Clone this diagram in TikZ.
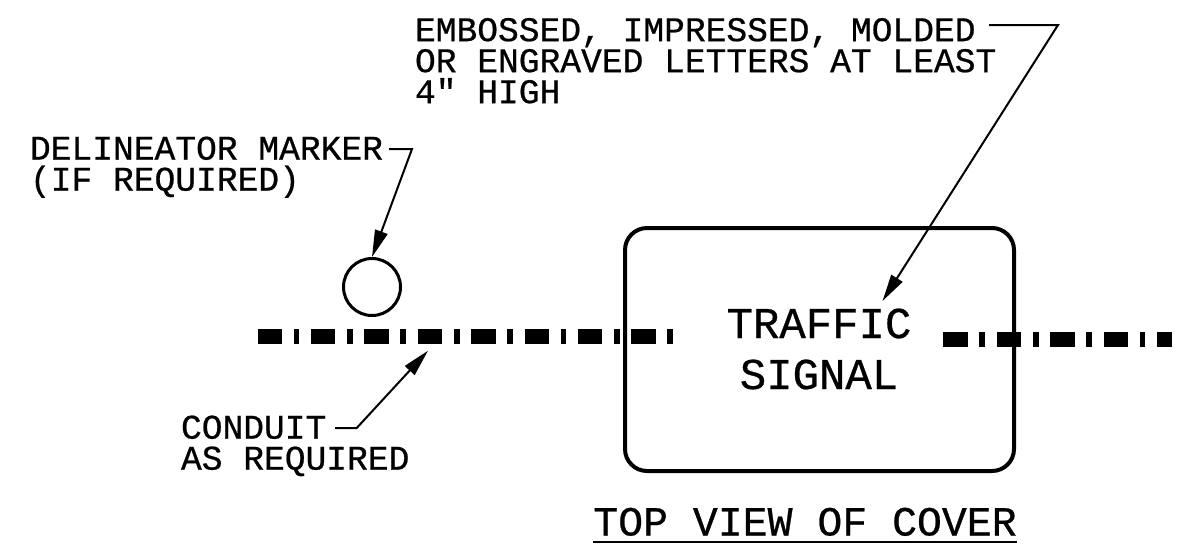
\documentclass[tikz,border=0pt]{standalone}
\usepackage{fontspec}
\setmainfont{Liberation Mono}[RawFeature={embolden=0.6}]
\usetikzlibrary{arrows.meta}
\tikzset{
  x=1pt,y=-1pt,
  leader/.style={draw=black,line width=2pt,-{Triangle[length=27pt,width=13pt]}},
  conduit/.style={draw=black,line width=15pt,dash pattern=on 24.5pt off 11.6pt on 5.7pt off 11.6pt},
  label/.style={inner sep=0pt,outer sep=0pt,align=left,anchor=north west,font=\fontsize{34.6}{31}\selectfont},
  coverbox/.style={draw=black,line width=4pt,rounded corners=22pt,minimum width=389pt,minimum height=243pt,inner sep=0pt},
  covertext/.style={inner sep=0pt,align=center,font=\fontsize{44}{51}\selectfont},
  marker/.style={draw=black,line width=3pt,circle,minimum size=57pt,inner sep=0pt}
}
\begin{document}
\begin{tikzpicture}
\useasboundingbox (0,0) rectangle (1177,550);
\fill[white] (0,0) rectangle (1177,550);
% conduit
\coordinate (cl1) at (257.5,336.5);
\coordinate (cl2) at (673.5,336.5);
\coordinate (cr1) at (943.3,339.5);
\coordinate (cr2) at (1172,339.5);
\draw[conduit] (cl1) -- (cl2);
\draw[conduit] (cr1) -- (cr2);
% cover
\node[coverbox] (cover) at (819.5,349.5) {};
\node[covertext] (ctext) at (819,349) {TRAFFIC\\SIGNAL};
\node[marker] (mark) at (372,287) {};
% labels
\node[label] (emb) at (415,18) {EMBOSSED, IMPRESSED, MOLDED\\OR ENGRAVED LETTERS AT LEAST\\4″ HIGH};
\node[label] (del) at (30,136.5) {DELINEATOR MARKER\\(IF REQUIRED)};
\node[label] (con) at (181,415.5) {CONDUIT\\AS REQUIRED};
\node[inner sep=0pt,anchor=base,font=\fontsize{41.5}{48}\selectfont] (top) at (805,535.5) {TOP VIEW OF COVER};
\draw[line width=2.5pt] (top.west |- 0,542) coordinate (ua) -- (top.east |- 0,542) coordinate (ub);
% leaders
\coordinate (t0) at (989,25);
\coordinate (t1) at (1058,25);
\coordinate (t2) at (882.5,301);
\draw[leader] (t0) -- (t1) -- (t2);
\coordinate (d0) at (389,149);
\coordinate (d1) at (412,149);
\draw[leader] (d0) -- (d1) -- (mark.north);
\coordinate (c0) at (335,428);
\coordinate (c1) at (356.7,428);
\coordinate (c2) at (428,350.7);
\draw[leader] (c0) -- (c1) -- (c2);
\end{tikzpicture}
\end{document}
